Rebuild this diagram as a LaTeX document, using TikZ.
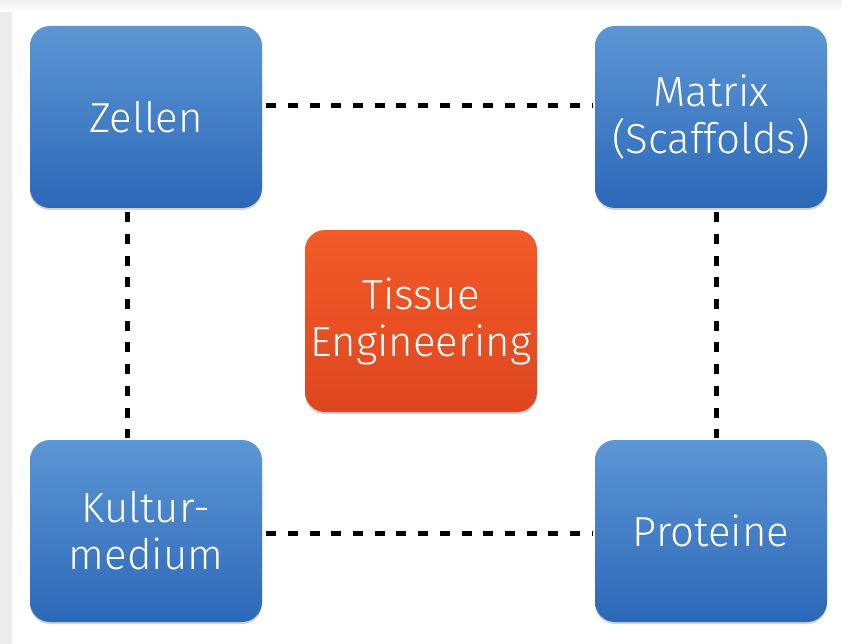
\documentclass[tikz,border=0pt]{standalone}
\usepackage{fontspec}
\setmainfont{Fira Sans Light}
\usetikzlibrary{shadows}
\definecolor{bluetop}{RGB}{92,150,212}
\definecolor{bluebot}{RGB}{44,104,184}
\definecolor{orangetop}{RGB}{242,90,40}
\definecolor{orangebot}{RGB}{222,70,32}
\definecolor{framegray}{RGB}{236,236,236}
\tikzset{
  box/.style={rounded corners=20pt, minimum width=232pt, minimum height=182pt,
    inner sep=0pt, align=center, text=white,
    font=\fontsize{42}{47}\selectfont,
    drop shadow={shadow xshift=0pt, shadow yshift=-2pt, opacity=0.18, fill=black}},
  bluebox/.style={box, top color=bluetop, bottom color=bluebot},
  orangebox/.style={box, top color=orangetop, bottom color=orangebot},
  conn/.style={line width=5pt, dash pattern=on 10pt off 11.7pt, black}
}
\begin{document}
\begin{tikzpicture}[x=1pt, y=-1pt]
\useasboundingbox (0,0) rectangle (842,644);
\shade[top color=framegray!70, bottom color=framegray!110!black] (0,0) rectangle (842,12);
\fill[framegray] (0,12) rectangle (12,644);
\fill[white] (12,12) rectangle (842,644);
\node[bluebox] (zellen) at (146,117) {Zellen};
\node[bluebox] (matrix) at (711,117) {Matrix\\(Scaffolds)};
\node[orangebox] (tissue) at (421,321) {Tissue\\Engineering};
\node[bluebox] (kultur) at (146,531) {Kultur-\\medium};
\node[bluebox] (proteine) at (711,531) {Proteine};
\draw[conn] ([xshift=4pt]zellen.east |- 0,106) -- ([xshift=-3pt]matrix.west |- 0,106);
\draw[conn] ([xshift=4pt]kultur.east |- 0,533) -- ([xshift=-3pt]proteine.west |- 0,533);
\draw[conn] ([yshift=-4pt]zellen.south -| 127,0) -- ([yshift=2pt]kultur.north -| 127,0);
\draw[conn] ([yshift=-4pt]matrix.south -| 716,0) -- ([yshift=2pt]proteine.north -| 716,0);
\end{tikzpicture}
\end{document}
